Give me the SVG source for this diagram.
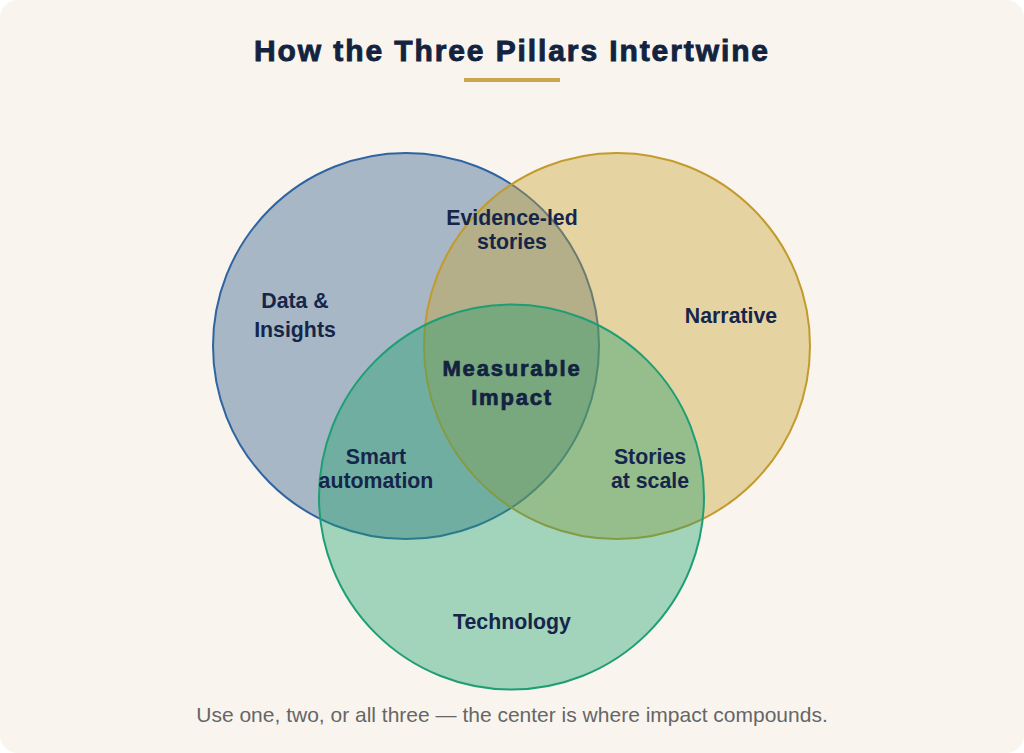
<svg xmlns="http://www.w3.org/2000/svg" width="1024" height="753" viewBox="0 0 1024 753">
  <style>
    .lbl { font-family: "Liberation Sans", Arial, sans-serif; font-weight: bold; font-size: 21.3px; fill: #15264A; text-anchor: middle; }
    .ttl { font-family: "Liberation Sans", Arial, sans-serif; font-weight: bold; font-size: 30px; fill: #13233F; stroke: #13233F; stroke-width: 0.9; letter-spacing: 1.9px; text-anchor: middle; }
    .ctr { font-family: "Liberation Sans", Arial, sans-serif; font-weight: bold; font-size: 22px; fill: #13233F; stroke: #13233F; stroke-width: 0.7; letter-spacing: 1.8px; text-anchor: middle; }
    .cap { font-family: "Liberation Sans", Arial, sans-serif; font-size: 21px; fill: #666666; text-anchor: middle; }
  </style>
  <rect x="0" y="0" width="1024" height="753" fill="#FFFFFF"/>
  <rect x="0" y="0" width="1024" height="753" rx="18" ry="18" fill="#F9F5EE"/>
  <g id="title">
    <text class="ttl" x="512" y="61">How the Three Pillars Intertwine</text>
    <rect x="464" y="78" width="96" height="4" fill="#C9A84C"/>
  </g>
  <g id="circles">
    <g id="data">
      <circle cx="406" cy="346" r="193" fill="#1A4C80" fill-opacity="0.37" stroke="#2F64A0" stroke-width="2"/>
    </g>
    <g id="narrative">
      <circle cx="617" cy="346" r="193" fill="#C9A030" fill-opacity="0.4" stroke="#C39A2C" stroke-width="2"/>
    </g>
    <g id="technology">
      <circle cx="511.5" cy="497" r="192.5" fill="#20A06E" fill-opacity="0.4" stroke="#1E9E74" stroke-width="2"/>
    </g>
  </g>
  <g id="labels">
    <text class="lbl" x="295" y="308">Data &amp;</text>
    <text class="lbl" x="295" y="337">Insights</text>
    <text class="lbl" x="731" y="323">Narrative</text>
    <text class="lbl" x="512" y="629">Technology</text>
    <text class="lbl" x="512" y="225">Evidence-led</text>
    <text class="lbl" x="512" y="249">stories</text>
    <text class="lbl" x="376" y="464">Smart</text>
    <text class="lbl" x="376" y="488">automation</text>
    <text class="lbl" x="650" y="464">Stories</text>
    <text class="lbl" x="650" y="488">at scale</text>
    <text class="ctr" x="512" y="376">Measurable</text>
    <text class="ctr" x="512" y="405">Impact</text>
  </g>
  <g id="caption">
    <text class="cap" x="512" y="722">Use one, two, or all three — the center is where impact compounds.</text>
  </g>
</svg>
